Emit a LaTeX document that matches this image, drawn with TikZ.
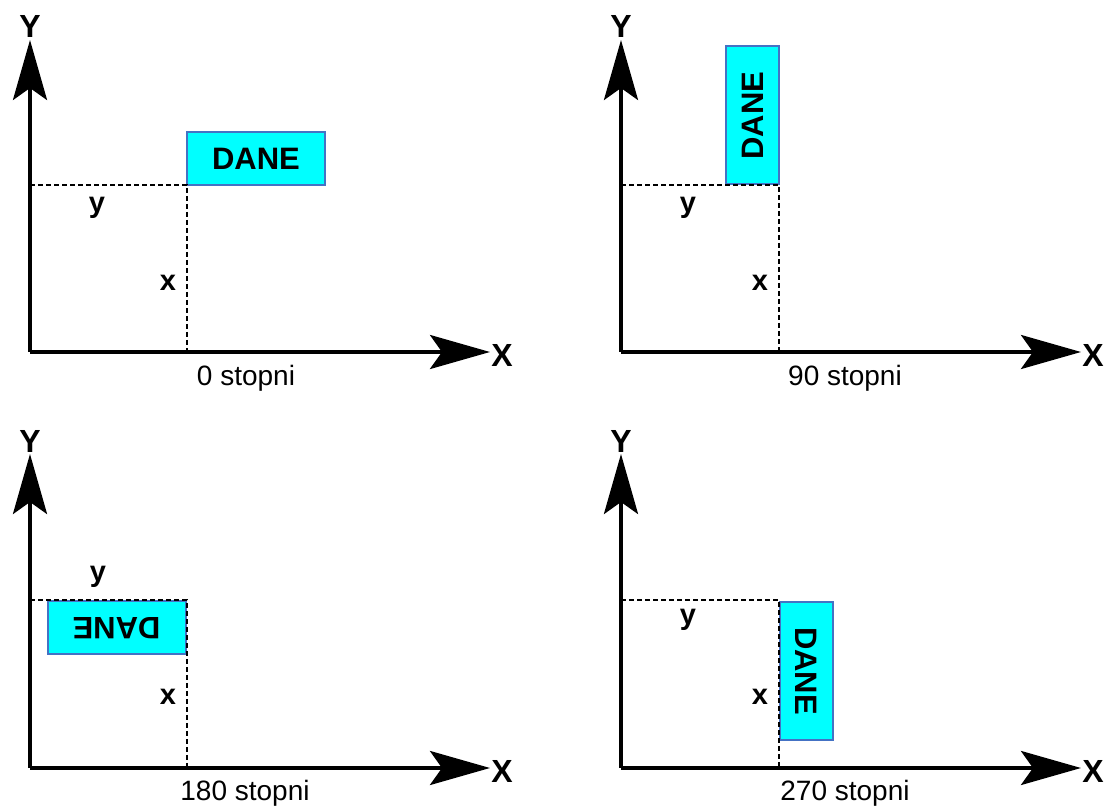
\documentclass[tikz,border=0pt]{standalone}
\usepackage{fontspec}
\setmainfont{Liberation Sans}
\usetikzlibrary{arrows.meta}
\definecolor{boxblue}{RGB}{68,114,196}
\definecolor{boxfill}{RGB}{0,255,255}
\begin{document}
\begin{tikzpicture}[x=0.5pt,y=-0.5pt,
  axis/.style={line width=2pt,-{Stealth[length=30pt,width=17pt,inset=6pt]}},
  guide/.style={line width=1pt,dash pattern=on 2.5pt off 1.5pt},
  databox/.style={draw=boxblue,line width=1pt,fill=boxfill,inner sep=0pt,
    minimum width=69pt,minimum height=26.5pt,font=\bfseries\fontsize{15.5}{16}\selectfont},
  axlabel/.style={font=\bfseries\fontsize{16}{17}\selectfont,inner sep=0pt},
  coordlabel/.style={font=\bfseries\fontsize{14.5}{15}\selectfont,inner sep=0pt},
  caption/.style={font=\fontsize{14}{15}\selectfont,inner sep=0pt}]
\useasboundingbox (0,0) rectangle (1110,806);

% ---------- panel 1: 0 stopni ----------
\coordinate (o1) at (30,352);
\coordinate (xe1) at (490,352);
\coordinate (ye1) at (30,40);
\draw[axis] (o1) -- (xe1);
\draw[axis] (o1) -- (ye1);
\node[axlabel] (X1) at (502,355) {X};
\node[axlabel] (Y1) at (30,26) {Y};
\coordinate (p1) at (187,185);
\coordinate (px1) at (187,352);
\coordinate (py1) at (30,185);
\node[databox] (d1) at (256,159) {DANE};
\draw[guide] (py1) -- (p1) -- (px1);
\node[coordlabel] (ly1) at (97,208) {y};
\node[coordlabel] (lx1) at (168,283) {x};
\node[caption] (c1) at (246,378) {0 stopni};

% ---------- panel 2: 90 stopni ----------
\coordinate (o2) at (621,352);
\coordinate (xe2) at (1081,352);
\coordinate (ye2) at (621,40);
\draw[axis] (o2) -- (xe2);
\draw[axis] (o2) -- (ye2);
\node[axlabel] (X2) at (1093,355) {X};
\node[axlabel] (Y2) at (621,26) {Y};
\coordinate (p2) at (779,185);
\coordinate (px2) at (779,352);
\coordinate (py2) at (621,185);
\node[databox,rotate=90] (d2) at (752.5,115.5) {DANE};
\draw[guide] (py2) -- (p2) -- (px2);
\node[coordlabel] (ly2) at (688,208) {y};
\node[coordlabel] (lx2) at (760,283) {x};
\node[caption] (c2) at (845,378) {90 stopni};

% ---------- panel 3: 180 stopni ----------
\coordinate (o3) at (30,768);
\coordinate (xe3) at (490,768);
\coordinate (ye3) at (30,454);
\draw[axis] (o3) -- (xe3);
\draw[axis] (o3) -- (ye3);
\node[axlabel] (X3) at (502,771) {X};
\node[axlabel] (Y3) at (30,441) {Y};
\coordinate (p3) at (187,600);
\coordinate (px3) at (187,768);
\coordinate (py3) at (30,600);
\node[databox,rotate=180] (d3) at (116.5,628) {DANE};
\draw[guide] (py3) -- (p3) -- (px3);
\node[coordlabel] (ly3) at (98,577) {y};
\node[coordlabel] (lx3) at (168,697) {x};
\node[caption] (c3) at (245,793) {180 stopni};

% ---------- panel 4: 270 stopni ----------
\coordinate (o4) at (621,768);
\coordinate (xe4) at (1081,768);
\coordinate (ye4) at (621,454);
\draw[axis] (o4) -- (xe4);
\draw[axis] (o4) -- (ye4);
\node[axlabel] (X4) at (1093,771) {X};
\node[axlabel] (Y4) at (621,441) {Y};
\coordinate (p4) at (779,600);
\coordinate (px4) at (779,768);
\coordinate (py4) at (621,600);
\node[databox,rotate=-90] (d4) at (806,671) {DANE};
\draw[guide] (py4) -- (p4) -- (px4);
\node[coordlabel] (ly4) at (688,620) {y};
\node[coordlabel] (lx4) at (760,697) {x};
\node[caption] (c4) at (845,793) {270 stopni};
\end{tikzpicture}
\end{document}
